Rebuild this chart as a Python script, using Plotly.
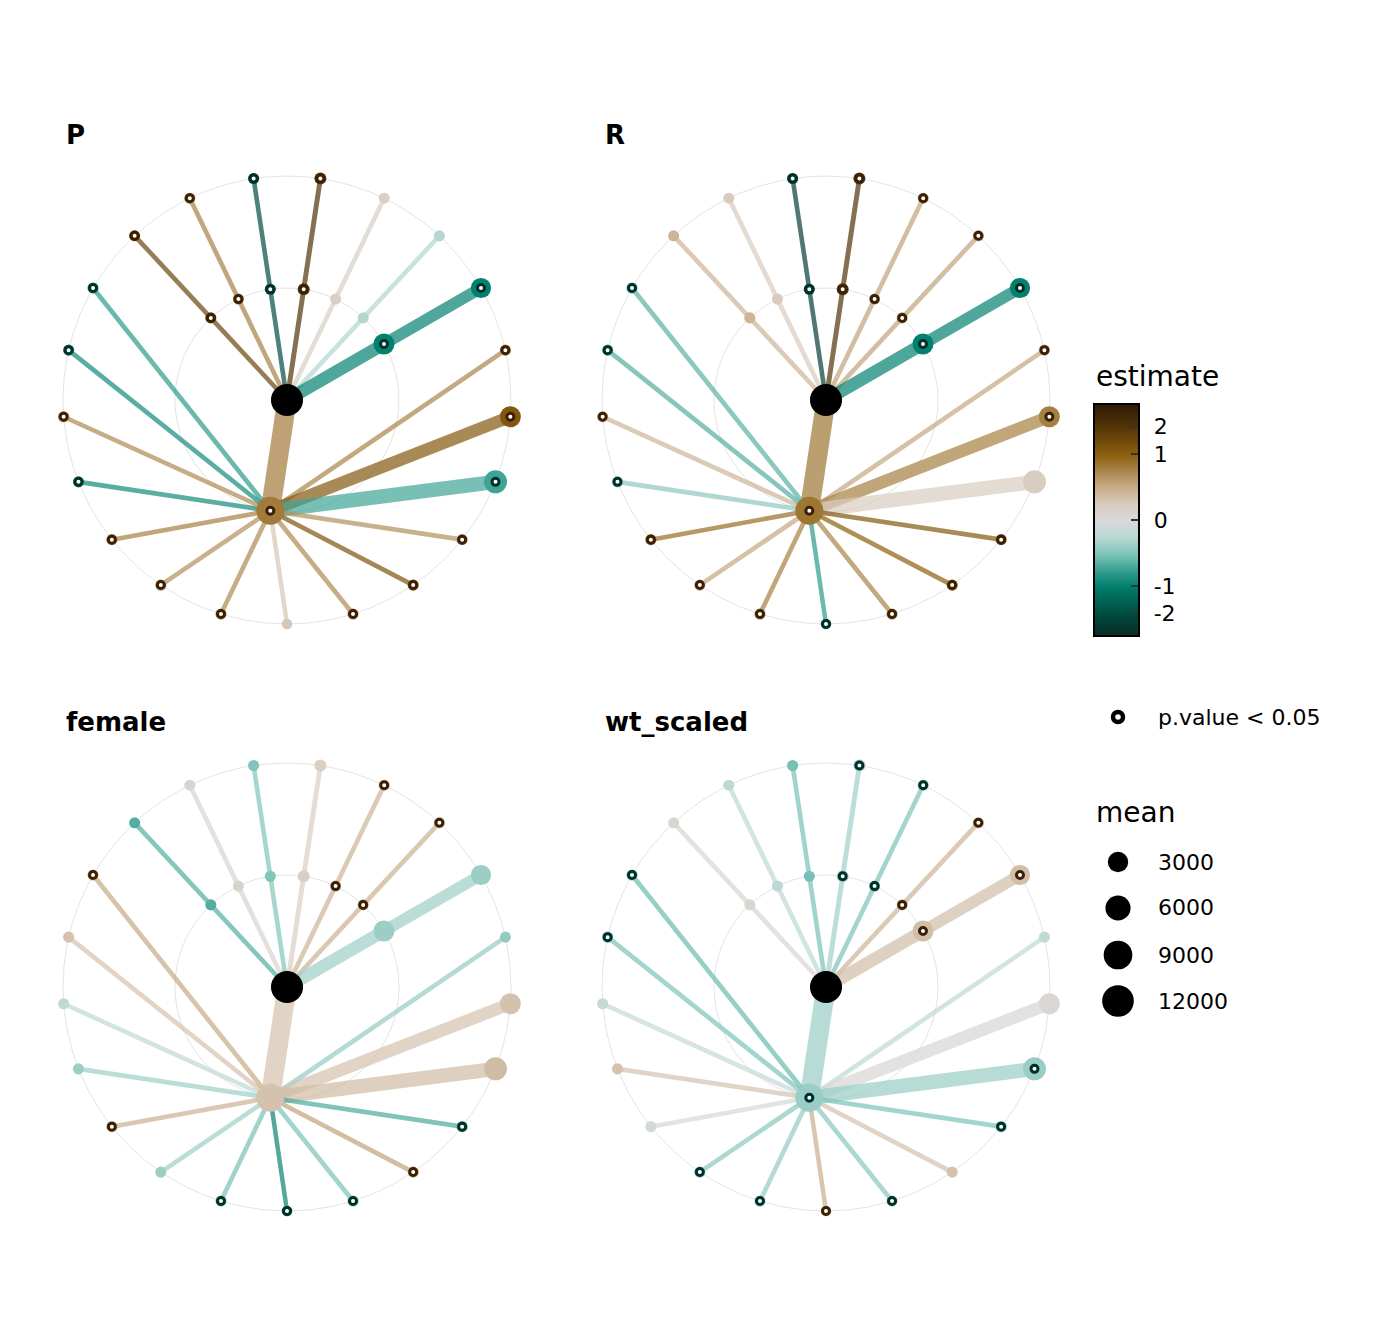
import numpy as np
import plotly.graph_objects as go

W, H = 1400, 1344
OFF = 8  # the page body margin shifts the figure by this many pixels

# ---------------- data ----------------
facets = ["P", "R", "female", "wt_scaled"]
n_leaves = 21
# leaves that hang from their own inner node (order of the inner-node arrays)
top_leaves = [18, 19, 20, 0, 1, 2, 3]
# leaves that hang from the big lower inner node B
bottom_leaves = [4, 5, 6, 7, 8, 9, 10, 11, 12, 13, 14, 15, 16, 17]

mean_root = 12500
mean_B = 8400
mean_top_inner = [330, 330, 330, 400, 330, 330, 3300]
mean_leaf = [400, 330, 330, 2900, 330, 3300, 4500, 330, 330, 330, 310,
             330, 330, 330, 330, 330, 330, 330, 330, 330, 330]

# estimates (leaf arrays indexed by leaf position 0..20 clockwise from top)
est_leaf_P = [2.0, 0.03, -0.08, -1.0, 0.55, 1.1, -0.55, 0.45, 1.2, 0.5, 0.08,
              0.5, 0.45, 0.6, -0.85, 0.5, -0.85, -0.65, 1.5, 0.58, -2.0]
est_inner_P = [1.5, 0.58, -2.0, 2.0, 0.03, -0.08, -1.0]
est_B_P = 0.65
sig_leaf_P = [1, 0, 0, 1, 1, 1, 1, 1, 1, 1, 0, 1, 1, 1, 1, 1, 1, 1, 1, 1, 1]
sig_inner_P = [1, 1, 1, 1, 0, 0, 1]
sig_B_P = 1

est_leaf_R = [2.0, 0.3, 0.3, -1.0, 0.27, 0.6, 0.05, 1.1, 0.95, 0.55, -0.65,
              0.6, 0.28, 0.8, -0.21, 0.18, -0.45, -0.42, 0.18, 0.06, -2.4]
est_inner_R = [0.18, 0.06, -2.4, 2.0, 0.3, 0.3, -1.0]
est_B_R = 0.7
sig_leaf_R = [1, 1, 1, 1, 1, 1, 0, 1, 1, 1, 1, 1, 1, 1, 1, 1, 1, 1, 0, 0, 1]
sig_inner_R = [0, 0, 1, 1, 1, 1, 1]
sig_B_R = 1

est_leaf_female = [0.03, 0.18, 0.2, -0.15, -0.18, 0.1, 0.13, -0.5, 0.3, -0.28, -0.95,
                   -0.3, -0.15, 0.2, -0.15, -0.05, 0.1, 0.25, -0.45, 0.01, -0.25]
est_inner_female = [-0.45, 0.01, -0.25, 0.03, 0.18, 0.2, -0.15]
est_B_female = 0.1
sig_leaf_female = [0, 1, 1, 0, 0, 0, 0, 1, 1, 1, 1, 1, 0, 1, 0, 0, 0, 1, 0, 0, 0]
sig_inner_female = [0, 0, 0, 0, 1, 1, 0]
sig_B_female = 0

est_leaf_wt = [-0.14, -0.28, 0.18, 0.12, -0.05, 0.003, -0.16, -0.28, 0.1, -0.22, 0.22,
               -0.18, -0.22, -0.005, 0.1, -0.03, -0.28, -0.35, 0.005, -0.06, -0.3]
est_inner_wt = [0.005, -0.06, -0.3, -0.14, -0.28, 0.18, 0.12]
est_B_wt = -0.16
sig_leaf_wt = [1, 1, 1, 1, 0, 0, 1, 1, 0, 1, 1, 1, 1, 0, 0, 0, 1, 1, 0, 0, 0]
sig_inner_wt = [0, 0, 0, 1, 1, 1, 1]
sig_B_wt = 1

est_leaf = [est_leaf_P, est_leaf_R, est_leaf_female, est_leaf_wt]
est_inner = [est_inner_P, est_inner_R, est_inner_female, est_inner_wt]
est_B = [est_B_P, est_B_R, est_B_female, est_B_wt]
sig_leaf = [sig_leaf_P, sig_leaf_R, sig_leaf_female, sig_leaf_wt]
sig_inner = [sig_inner_P, sig_inner_R, sig_inner_female, sig_inner_wt]
sig_B = [sig_B_P, sig_B_R, sig_B_female, sig_B_wt]

colorbar_ticks = [2, 1, 0, -1, -2]
size_breaks = [3000, 6000, 9000, 12000]

# ---------------- styles ----------------
cs_pos = [0.00, 0.09, 0.21, 0.27, 0.35, 0.43, 0.50, 0.57, 0.65, 0.78, 0.90, 1.00]
cs_hex = ["#0b2b26", "#004a3e", "#007d6c", "#2c9a8a", "#7cc3b8", "#bcd9d4",
          "#d9d9d9", "#d9cbbd", "#c4a67f", "#8c5f0f", "#533407", "#2c1a06"]
T = 1.757  # limit in signed-sqrt space
FONT = "DejaVu Sans"
ring_pos = "#3a2005"
ring_neg = "#00302a"


def hex2rgb(h):
    h = h.lstrip("#")
    return np.array([int(h[i:i + 2], 16) for i in (0, 2, 4)], dtype=float)


cs_rgb = np.array([hex2rgb(h) for h in cs_hex])
colorscale = [[p, h] for p, h in zip(cs_pos, cs_hex)]


def trans(e):
    return float(np.sign(e) * np.sqrt(abs(e)))


def color_of(e, alpha=1.0):
    p = np.clip((trans(e) + T) / (2 * T), 0, 1)
    c = [np.interp(p, cs_pos, cs_rgb[:, i]) for i in range(3)]
    return "rgba(%d,%d,%d,%.2f)" % (round(c[0]), round(c[1]), round(c[2]), alpha)


def node_size(m):
    return 10 + 0.2 * np.sqrt(max(m - 300, 0))


def edge_width(m):
    return 1 + 0.2 * np.sqrt(m)


def polar(r, ang_deg):
    a = np.deg2rad(ang_deg)
    return r * np.sin(a), r * np.cos(a)


def px(x):
    return (x - OFF) / W


def py(y):
    return 1 - (y - OFF) / H


# layout of the tree (circular dendrogram)
leaf_angle = [(k + 0.5) * 360.0 / n_leaves for k in range(n_leaves)]
inner_angle = [leaf_angle[k] for k in top_leaves]
B_angle = float(np.mean([leaf_angle[k] for k in bottom_leaves]))

panel_cx = [287, 826, 287, 826]
panel_cy = [400, 400, 987, 987]
ppu = 112.0
half = 240.0

fig = go.Figure()
layout_axes = {}
shapes = []
annotations = []

for i, name in enumerate(facets):
    xa = "x" if i == 0 else "x%d" % (i + 1)
    ya = "y" if i == 0 else "y%d" % (i + 1)
    xkey = "xaxis" if i == 0 else "xaxis%d" % (i + 1)
    ykey = "yaxis" if i == 0 else "yaxis%d" % (i + 1)
    cx, cy = panel_cx[i], panel_cy[i]
    layout_axes[xkey] = dict(domain=[px(cx - half), px(cx + half)],
                             range=[-half / ppu, half / ppu], visible=False,
                             fixedrange=True, anchor=ya)
    layout_axes[ykey] = dict(domain=[py(cy + half), py(cy - half)],
                             range=[-half / ppu, half / ppu], visible=False,
                             fixedrange=True, anchor=xa)
    for r in (1, 2):
        shapes.append(dict(type="circle", xref=xa, yref=ya, x0=-r, x1=r, y0=-r, y1=r,
                           line=dict(color="#dcdcdc", width=0.8), layer="below"))

    rx, ry = 0.0, 0.0
    bx, by = polar(1, B_angle)
    nodes = []  # (x, y, est, mean, sig)
    edges = []  # (x0, y0, x1, y1, est, mean)
    for j, k in enumerate(top_leaves):
        ix, iy = polar(1, inner_angle[j])
        lx, ly = polar(2, leaf_angle[k])
        edges.append((rx, ry, ix, iy, est_inner[i][j], mean_top_inner[j]))
        edges.append((ix, iy, lx, ly, est_leaf[i][k], mean_leaf[k]))
        nodes.append((ix, iy, est_inner[i][j], mean_top_inner[j], sig_inner[i][j]))
        nodes.append((lx, ly, est_leaf[i][k], mean_leaf[k], sig_leaf[i][k]))
    edges.append((rx, ry, bx, by, est_B[i], mean_B))
    nodes.append((bx, by, est_B[i], mean_B, sig_B[i]))
    for k in bottom_leaves:
        lx, ly = polar(2, leaf_angle[k])
        edges.append((bx, by, lx, ly, est_leaf[i][k], mean_leaf[k]))
        nodes.append((lx, ly, est_leaf[i][k], mean_leaf[k], sig_leaf[i][k]))

    for (x0, y0, x1, y1, e, m) in edges:
        fig.add_trace(go.Scatter(x=[x0, x1], y=[y0, y1], mode="lines",
                                 line=dict(color=color_of(e, 0.7), width=edge_width(m)),
                                 xaxis=xa, yaxis=ya, hoverinfo="skip", showlegend=False))
    fig.add_trace(go.Scatter(
        x=[n[0] for n in nodes], y=[n[1] for n in nodes], mode="markers",
        marker=dict(color=[trans(n[2]) for n in nodes], coloraxis="coloraxis", opacity=1,
                    size=[node_size(n[3]) for n in nodes], line=dict(width=0)),
        xaxis=xa, yaxis=ya, hoverinfo="skip", showlegend=False))
    fig.add_trace(go.Scatter(x=[rx], y=[ry], mode="markers",
                             marker=dict(color="black", size=node_size(mean_root), opacity=1,
                                         line=dict(width=0)),
                             xaxis=xa, yaxis=ya, hoverinfo="skip", showlegend=False))
    sn = [n for n in nodes if n[4]]
    fig.add_trace(go.Scatter(
        x=[n[0] for n in sn], y=[n[1] for n in sn], mode="markers",
        marker=dict(color="white", size=7, opacity=1,
                    line=dict(width=3, color=[ring_pos if n[2] > 0 else ring_neg for n in sn])),
        xaxis=xa, yaxis=ya, hoverinfo="skip", showlegend=False))

    annotations.append(dict(text="<b>%s</b>" % name, xref="paper", yref="paper",
                            x=px(cx - 223), y=py(cy - 265), xanchor="left", yanchor="middle",
                            showarrow=False, font=dict(family=FONT, size=26, color="black")))

# ---------------- legends ----------------
layout_axes["xaxis5"] = dict(domain=[0, 1], range=[OFF, W + OFF], visible=False,
                             fixedrange=True, anchor="y5")
layout_axes["yaxis5"] = dict(domain=[0, 1], range=[H + OFF, OFF], visible=False,
                             fixedrange=True, anchor="x5")

leg_x = 1118
fig.add_trace(go.Scatter(x=[leg_x], y=[717], mode="markers",
                         marker=dict(color="white", size=10, opacity=1,
                                     line=dict(width=4.5, color="black")),
                         xaxis="x5", yaxis="y5", hoverinfo="skip", showlegend=False))
size_y = [862, 908, 955, 1001]
fig.add_trace(go.Scatter(x=[leg_x] * len(size_breaks), y=size_y, mode="markers",
                         marker=dict(color="black", size=[node_size(m) for m in size_breaks],
                                     opacity=1, line=dict(width=0)),
                         xaxis="x5", yaxis="y5", hoverinfo="skip", showlegend=False))
for m, yy in zip(size_breaks, size_y):
    annotations.append(dict(text=str(m), xref="paper", yref="paper", x=px(1156), y=py(yy),
                            xanchor="left", yanchor="middle", showarrow=False,
                            font=dict(family=FONT, size=22, color="black")))
annotations.append(dict(text="p.value &lt; 0.05", xref="paper", yref="paper", x=px(1156), y=py(717),
                        xanchor="left", yanchor="middle", showarrow=False,
                        font=dict(family=FONT, size=22, color="black")))
annotations.append(dict(text="mean", xref="paper", yref="paper", x=px(1094), y=py(812),
                        xanchor="left", yanchor="middle", showarrow=False,
                        font=dict(family=FONT, size=28, color="black")))
annotations.append(dict(text="estimate", xref="paper", yref="paper", x=px(1094), y=py(377),
                        xanchor="left", yanchor="middle", showarrow=False,
                        font=dict(family=FONT, size=28, color="black")))

cb_left, cb_right = 1094, 1141
cb_top, cb_bot = 404, 636
cb_mid = (cb_top + cb_bot) / 2
tick_t = [trans(v) for v in colorbar_ticks]
pad = "\u2009\u2009"

fig.update_layout(
    width=W, height=H, margin=dict(l=0, r=0, t=0, b=0),
    paper_bgcolor="white", plot_bgcolor="rgba(0,0,0,0)",
    shapes=shapes, annotations=annotations,
    coloraxis=dict(colorscale=colorscale, cmin=-T, cmax=T,
                   colorbar=dict(x=px(cb_left), xanchor="left", y=py(cb_mid), yanchor="middle",
                                 len=cb_bot - cb_top, lenmode="pixels", thickness=cb_right - cb_left - 2,
                                 thicknessmode="pixels", outlinewidth=2, outlinecolor="black",
                                 tickvals=tick_t, ticktext=[pad + str(v) for v in colorbar_ticks],
                                 ticks="inside", ticklen=9, tickcolor="#333333", tickwidth=1.5,
                                 tickfont=dict(family=FONT, size=22, color="black"),
                                 xpad=0, ypad=0, title=dict(text=""))),
    **layout_axes,
)

fig.write_html("out.html")
